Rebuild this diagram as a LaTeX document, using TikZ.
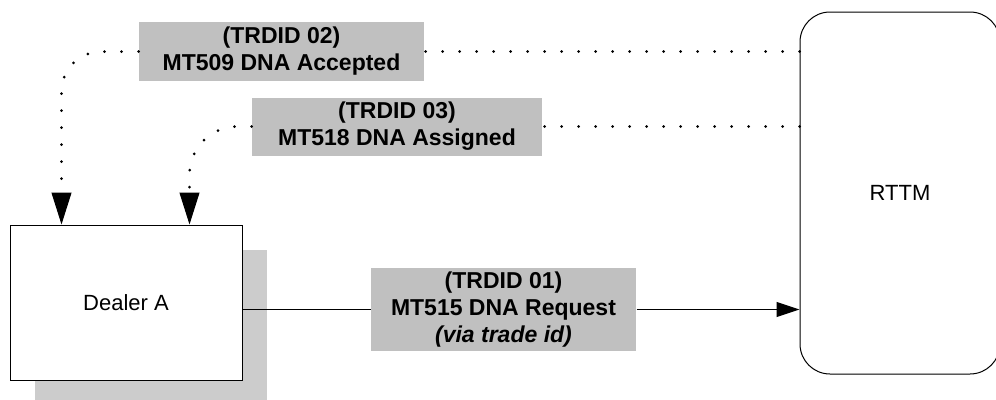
\documentclass[tikz,border=0pt]{standalone}
\usepackage{fontspec}
\setmainfont{Liberation Sans}
\usetikzlibrary{calc}
\usetikzlibrary{arrows.meta}
\usetikzlibrary{shadows}
\definecolor{msggray}{RGB}{192,192,192}
\definecolor{shadowgray}{RGB}{204,204,204}
\tikzstyle{boxnode} = [draw, rectangle, fill=white, line width=1pt, inner sep=0pt, font=\fontsize{22}{27}\selectfont]
\tikzstyle{msgnode} = [rectangle, fill=msggray, inner sep=0pt, align=center, font=\fontsize{23}{27}\selectfont\bfseries]
\tikzstyle{dotline} = [line width=3pt, line cap=round, dash pattern=on 0pt off 17pt]
\tikzstyle{bigtip} = [-{Triangle[length=32pt,width=20pt,line width=1pt]}]
\tikzstyle{smalltip} = [-{Triangle[length=23pt,width=15pt,line width=1pt]}]

\begin{document}
\begin{tikzpicture}[x=1pt, y=-1pt, line width=1pt]
  \useasboundingbox (0,0) rectangle (996,399);

  \node[boxnode, minimum width=232pt, minimum height=155pt,
    drop shadow={shadow xshift=25pt, shadow yshift=-25pt, fill=shadowgray, opacity=1}]
    (dealer) at (126,302.5) {Dealer A};
  \node[boxnode, rounded corners=30pt, minimum width=200pt, minimum height=362pt] (rttm) at (900,193) {RTTM};

  \node[msgnode, minimum width=265pt, minimum height=83pt] (m01) at (503.5,309.5)
    {(TRDID 01)\\MT515 DNA Request\\\textit{(via trade id)}};
  \node[msgnode, minimum width=285pt, minimum height=59pt] (m02) at (281.5,51.5)
    {(TRDID 02)\\MT509 DNA Accepted};
  \node[msgnode, minimum width=290pt, minimum height=58pt] (m03) at (397,126.5)
    {(TRDID 03)\\MT518 DNA Assigned};

  \coordinate (tip02) at ($(dealer.north west)+(52,0)$);
  \coordinate (tip03) at ($(dealer.north west)+(180,0)$);

  \draw (dealer.east |- m01) -- (m01.west);
  \draw[smalltip] (m01.east) -- (rttm.west |- m01);

  \draw[dotline] (rttm.west |- m02) -- (m02.east);
  \draw[dotline, bigtip, rounded corners=40pt] (m02.west) -| (tip02);
  \draw[dotline] (rttm.west |- m03.east) -- (m03.east);
  \draw[dotline, bigtip, rounded corners=48pt] (m03.west) -| (tip03);
\end{tikzpicture}
\end{document}
